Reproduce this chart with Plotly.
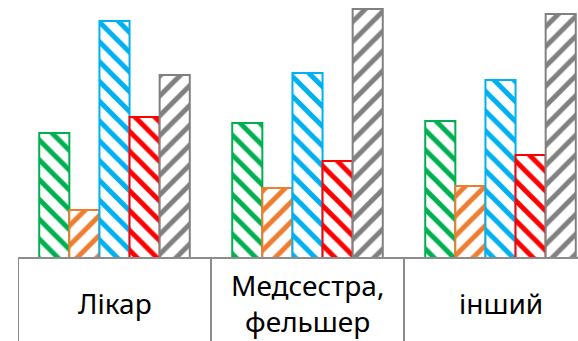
import plotly.graph_objects as go

categories = ["Лікар", "Медсестра,<br>фельшер", "інший"]
series_names = ["Ряд 1", "Ряд 2", "Ряд 3", "Ряд 4", "Ряд 5"]
series_values = [
    [12.5, 13.5, 13.7],
    [4.8, 7.0, 7.2],
    [23.7, 18.5, 17.8],
    [14.1, 9.7, 10.3],
    [18.3, 24.9, 24.4],
]
colors = ["#00B050", "#ED7D31", "#00B0F0", "#FF0000", "#808080"]
shapes = ["\\", "/", "\\", "\\", "/"]

W, H = 578, 341
left, bottom = 18, 83
plot_h = H - bottom
cat_px = 193.0

fig = go.Figure()
xs = list(range(len(categories)))
for name, vals, c, sh in zip(series_names, series_values, colors, shapes):
    fig.add_trace(go.Bar(
        x=xs, y=vals, name=name,
        marker=dict(
            color="white",
            line=dict(color=c, width=2),
            pattern=dict(shape=sh, fgcolor=c, bgcolor="white", size=14,
                         solidity=0.36, fillmode="replace"),
        ),
        showlegend=False,
    ))

x_max = -0.5 + (W - left) / cat_px
fig.update_layout(
    width=W, height=H,
    margin=dict(l=left, r=0, t=0, b=bottom),
    barmode="group", bargap=0.22, bargroupgap=0,
    plot_bgcolor="white", paper_bgcolor="white",
    xaxis=dict(range=[-0.5, x_max], showticklabels=False, showgrid=False,
               zeroline=False, showline=False, fixedrange=True),
    yaxis=dict(range=[0, 25.8], visible=False, showgrid=False, fixedrange=True),
)

line_col = "#8C8C8C"
ybot = -bottom / plot_h
fig.add_shape(type="line", xref="paper", yref="paper", x0=0, x1=1, y0=0, y1=0,
              line=dict(color=line_col, width=2))
for b in [-0.5, 0.5, 1.5]:
    fig.add_shape(type="line", xref="x", yref="paper", x0=b, x1=b, y0=0, y1=ybot,
                  line=dict(color=line_col, width=2))

for i, cat in enumerate(categories):
    fig.add_annotation(x=i, xref="x", y=-(303 - plot_h) / plot_h, yref="paper",
                       text=cat, showarrow=False, align="center",
                       font=dict(family="Noto Sans", size=28, color="black"),
                       yanchor="middle")

fig.write_html("out.html", config={"displayModeBar": False},
               post_script="document.body.style.margin='0';document.body.style.overflow='hidden';")
